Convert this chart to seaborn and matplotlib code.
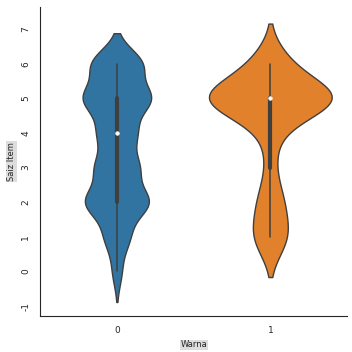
import numpy as np
import pandas as pd
import matplotlib
matplotlib.use("Agg")
import matplotlib.pyplot as plt
import seaborn as sns

# Estimated number of observations at each item size, per colour group
sizes = [0, 1, 2, 3, 4, 5, 6]
counts_warna0 = [30, 80, 207, 138, 120, 218, 166]
counts_warna1 = [0, 25, 18, 6, 10, 100, 24]
warna_labels = ["0", "1"]
y_ticks = [-1, 0, 1, 2, 3, 4, 5, 6, 7]

rows_w = []
rows_s = []
for lab, cnts in zip(warna_labels, [counts_warna0, counts_warna1]):
    for s, c in zip(sizes, cnts):
        rows_w += [lab] * c
        rows_s += [s] * c
df = pd.DataFrame({"Warna": rows_w, "Saiz Item": rows_s})

sns.set_style("white")
plt.rcParams["font.family"] = ["DejaVu Sans"]

fig = plt.figure(figsize=(3.52, 3.52), dpi=100)
ax = fig.add_axes([0.114, 0.102, 0.872, 0.878])
sns.violinplot(data=df, x="Warna", y="Saiz Item", hue="Warna",
               palette=["#1f77b4", "#ff7f0e"], legend=False, ax=ax,
               linewidth=1.0, common_norm=True,
               inner_kws=dict(box_width=3.0, whis_width=1.1, marker="o"))
ax.set_ylim(-1.29, 7.64)
ax.set_xlim(-0.5, 1.5)
ax.set_yticks(y_ticks)
ax.set_yticklabels([str(t) for t in y_ticks], rotation=90, va="center", fontsize=6.5)
ax.tick_params(axis="x", labelsize=6.5)
ax.set_xlabel("Warna", fontsize=6,
              bbox=dict(facecolor="#dddddd", edgecolor="none", pad=0.5))
ax.set_ylabel("Saiz Item", fontsize=6,
              bbox=dict(facecolor="#dddddd", edgecolor="none", pad=0.5))
sns.despine(ax=ax)
fig.savefig("out.png", dpi=100)
